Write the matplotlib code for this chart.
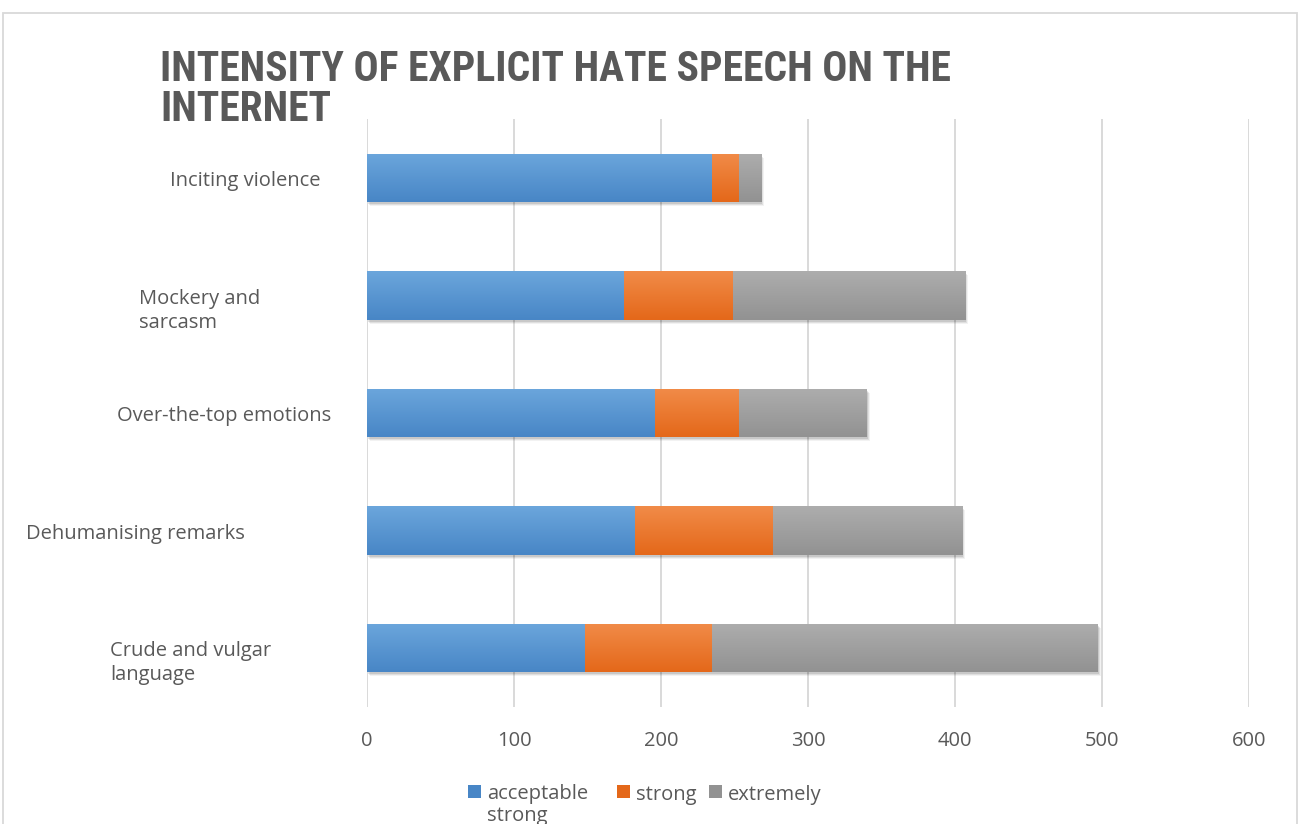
import numpy as np
import matplotlib
matplotlib.use('Agg')
import matplotlib.pyplot as plt
import matplotlib.transforms as mtransforms
from matplotlib.colors import LinearSegmentedColormap
from matplotlib.patches import Rectangle

# bottom to top, as the bars are stacked on the y axis
categories = ['Crude and vulgar\nlanguage', 'Dehumanising remarks', 'Over-the-top emotions',
              'Mockery and\nsarcasm', 'Inciting violence']
acceptable = [148, 182, 196, 175, 235]
strong = [87, 94, 57, 74, 18]
extremely = [262, 129, 87, 158, 15]
series_names = ['acceptable\nstrong', 'strong', 'extremely']
xticks = [0, 100, 200, 300, 400, 500, 600]

# top / bottom shade for each series
shades = [('#6ba6dc', '#4886c6'), ('#f18b48', '#e4681a'), ('#adadad', '#929292')]
label_left = [110, 26, 117, 139, 170]   # px from left edge of the figure
W, H = 1300, 824
text_col = '#595959'
font = 'Open Sans'

fig = plt.figure(figsize=(W / 100, H / 100), dpi=100)
ax = fig.add_axes([367 / W, 117.25 / H, 882 / W, 587.5 / H])

y = np.arange(len(categories))
bar_h = 0.41
series = [acceptable, strong, extremely]
left = np.zeros(len(categories))
totals = np.sum(series, axis=0)

# soft drop shadow under each full stack
for dx, dy, a in [(1, -2, 0.10), (2, -3, 0.08), (3, -4, 0.05)]:
    off = mtransforms.ScaledTranslation(dx / 100, dy / 100, fig.dpi_scale_trans)
    for yi, tot in zip(y, totals):
        ax.add_patch(Rectangle((0, yi - bar_h / 2), tot, bar_h, transform=ax.transData + off,
                               facecolor='black', alpha=a, lw=0, zorder=2))

grad = np.linspace(0, 1, 64).reshape(-1, 1)
for vals, name, (c_top, c_bot) in zip(series, series_names, shades):
    bars = ax.barh(y, vals, left=left, height=bar_h, color=c_bot, lw=0, zorder=3, label=name)
    cmap = LinearSegmentedColormap.from_list(name, [c_top, c_bot])
    for b in bars:
        x0, y0 = b.get_x(), b.get_y()
        im = ax.imshow(grad, extent=(x0, x0 + b.get_width(), y0, y0 + b.get_height()),
                       cmap=cmap, aspect='auto', origin='upper', zorder=4)
        im.set_clip_path(b)
    left = left + np.array(vals)

ax.set_xlim(0, 600)
ax.set_ylim(-0.5, len(categories) - 0.5)
ax.set_xticks(xticks)
ax.set_yticks([])
for s in ax.spines.values():
    s.set_visible(False)
ax.grid(axis='x', color='#d9d9d9', lw=1.4, zorder=0)
ax.set_axisbelow(True)
ax.tick_params(axis='x', length=0, pad=17.5, labelsize=14.5, labelcolor=text_col)
for t in ax.get_xticklabels():
    t.set_fontfamily(font)

# category labels; first line's baseline sits 8 px under the bar centre
line_px = 24
lab_tr = mtransforms.blended_transform_factory(fig.transFigure, ax.transData)
for yi, lab, lx in zip(y, categories, label_left):
    n = lab.count('\n')
    ax.annotate(lab, xy=(lx / W, yi), xycoords=lab_tr,
                xytext=(0, -(8 + n * line_px) * 0.72), textcoords='offset points',
                ha='left', va='baseline', fontsize=14.5, color=text_col, family=font,
                linespacing=1.25, annotation_clip=False)

# title
title_kw = dict(fontsize=30, fontweight='bold', color=text_col, fontstretch='condensed',
                family=['Roboto Condensed', 'DejaVu Sans'], va='baseline', ha='left')
fig.text(160 / W, 1 - 81 / H, 'INTENSITY OF EXPLICIT HATE SPEECH ON THE', **title_kw)
fig.text(160 / W, 1 - 121 / H, 'INTERNET', **title_kw)

# legend
leg_x = [468, 617, 709]
for lx, name, (c_top, c_bot) in zip(leg_x, series_names, shades):
    n = name.count('\n')
    fig.add_artist(Rectangle((lx / W, 1 - 798 / H), 13 / W, 13 / H, transform=fig.transFigure,
                             facecolor=c_bot, lw=0))
    fig.text((lx + 19) / W, 1 - (800 + n * 21) / H, name, fontsize=14.5, color=text_col,
             family=font, ha='left', va='baseline', linespacing=1.1)

# outer frame
fig.add_artist(Rectangle((3 / W, -0.02), 1294 / W, 1.02 - 13 / H, transform=fig.transFigure,
                         fill=False, edgecolor='#d9d9d9', lw=1.3))

fig.savefig('out.png', dpi=100)
